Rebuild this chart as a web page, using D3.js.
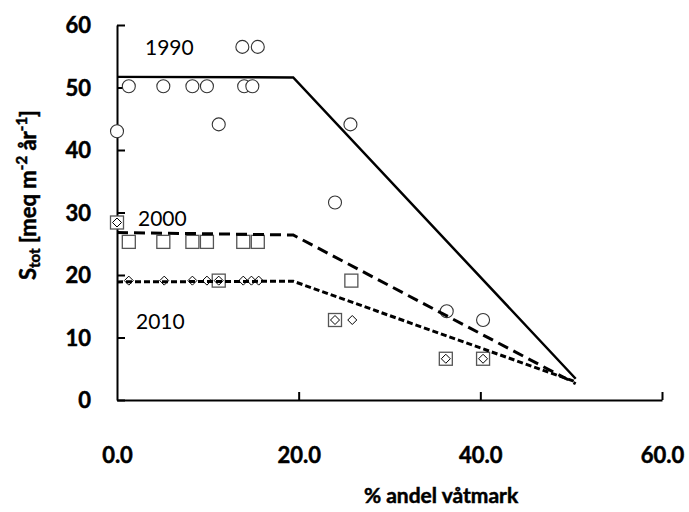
<!DOCTYPE html>
<html>
<head>
<meta charset="utf-8">
<script src="https://cdn.jsdelivr.net/npm/d3@7"></script>
<style>
  html, body { margin: 0; padding: 0; background: #fff; }
  svg { display: block; }
  text { font-family: Lato, "Open Sans", "DejaVu Sans", sans-serif; fill: #000; }
  .heavy { stroke: #000; stroke-width: 0.5px; }
</style>
</head>
<body>
<svg id="chart" width="689" height="512"></svg>
<script>
// Observed sulphur load per site, by share of wetland in the catchment
const wet1990 = [0, 1.3, 5.1, 8.3, 9.9, 11.2, 13.8, 14.0, 14.9, 15.5, 24.0, 25.7, 36.3, 40.3];
const s1990   = [43.0, 50.2, 50.2, 50.2, 50.2, 44.1, 56.5, 50.2, 50.2, 56.5, 31.6, 44.1, 14.2, 12.8];

const wet2000 = [0, 1.3, 5.1, 8.3, 9.9, 11.2, 13.9, 15.5, 24.0, 25.8, 36.2, 40.3];
const s2000   = [28.4, 25.3, 25.3, 25.3, 25.3, 19.1, 25.3, 25.3, 12.8, 19.1, 6.6, 6.6];

const wet2010 = [0, 1.3, 5.2, 8.3, 9.9, 11.2, 13.9, 14.8, 15.6, 24.0, 25.9, 36.2, 40.3];
const s2010   = [28.4, 19.1, 19.1, 19.1, 19.1, 19.1, 19.1, 19.1, 19.1, 12.8, 12.8, 6.6, 6.6];

// Broken-line fits: plateau, then linear decline
const fitX    = [0, 19.4, 50.5];
const fit1990 = [51.7, 51.6, 3.4];
const fit2000 = [26.8, 26.4, 2.6];
const fit2010 = [18.9, 19.0, 2.9];

const xTicks = [0, 20, 40, 60];
const yTicks = [0, 10, 20, 30, 40, 50, 60];

const svg = d3.select("#chart");
const x = d3.scaleLinear().domain([0, 60]).range([117, 662]);
const y = d3.scaleLinear().domain([0, 60]).range([400, 25]);

// Axes (ticks point inward)
const xAxis = d3.axisBottom(x).tickValues(xTicks).tickSizeInner(-8).tickSizeOuter(0).tickFormat(d3.format(".1f"));
const yAxis = d3.axisLeft(y).tickValues(yTicks).tickSizeInner(-8).tickSizeOuter(0).tickFormat(d3.format("d"));

const gx = svg.append("g").attr("transform", `translate(0,${y(0)})`).call(xAxis);
const gy = svg.append("g").attr("transform", `translate(${x(0)},0)`).call(yAxis);

[gx, gy].forEach(g => {
  g.select(".domain").attr("stroke", "#000").attr("stroke-width", 2);
  g.selectAll(".tick line").attr("stroke", "#000").attr("stroke-width", 2);
  g.selectAll(".tick text").attr("fill", "#000").attr("class", "heavy")
    .style("font-family", "Lato, 'Open Sans', sans-serif")
    .style("font-weight", "bold").style("font-size", "22px");
});
gy.selectAll(".tick text").attr("x", -26).attr("dy", "0.36em");
gx.selectAll(".tick text").attr("y", 0).attr("dy", 0)
  .attr("transform", "translate(0,63)");
gx.selectAll(".tick").filter(d => d === 0).select("line").remove();

// Markers
const pts = (xs, ys) => xs.map((v, i) => [v, ys[i]]);

svg.append("g").selectAll("rect").data(pts(wet2000, s2000)).join("rect")
  .attr("x", d => x(d[0]) - 6.5).attr("y", d => y(d[1]) - 6.5)
  .attr("width", 13).attr("height", 13)
  .attr("fill", "#fff").attr("stroke", "#555").attr("stroke-width", 1.3);

svg.append("g").selectAll("path").data(pts(wet2010, s2010)).join("path")
  .attr("d", d => {
    const cx = x(d[0]), cy = y(d[1]), r = 4.5;
    return `M${cx},${cy - r}L${cx + r},${cy}L${cx},${cy + r}L${cx - r},${cy}Z`;
  })
  .attr("fill", "#fff").attr("stroke", "#000").attr("stroke-width", 1);

svg.append("g").selectAll("circle").data(pts(wet1990, s1990)).join("circle")
  .attr("cx", d => x(d[0])).attr("cy", d => y(d[1])).attr("r", 6.5)
  .attr("fill", "#fff").attr("stroke", "#333").attr("stroke-width", 1.1);

// Fitted lines
const line = d3.line().x(d => x(d[0])).y(d => y(d[1]));
const fits = [
  { ys: fit1990, dash: null, w: 2.5 },
  { ys: fit2000, dash: "11,6", w: 3 },
  { ys: fit2010, dash: "6,3", w: 3 }
];
svg.append("g").selectAll("path").data(fits).join("path")
  .attr("d", f => line(pts(fitX, f.ys)))
  .attr("fill", "none").attr("stroke", "#000")
  .attr("stroke-width", f => f.w)
  .attr("stroke-dasharray", f => f.dash);

// Year labels
const yearLabels = [
  { t: "1990", px: 145, py: 55 },
  { t: "2000", px: 138, py: 226 },
  { t: "2010", px: 136, py: 329 }
];
svg.append("g").selectAll("text").data(yearLabels).join("text")
  .attr("x", d => d.px).attr("y", d => d.py)
  .style("font-size", "21px").text(d => d.t);

// Axis titles
svg.append("text").attr("class", "heavy").attr("x", 441).attr("y", 503).attr("text-anchor", "middle")
  .style("font-weight", "bold").style("font-size", "21px").text("% andel våtmark");

const yt = svg.append("text").attr("class", "heavy").attr("transform", "translate(36,195) rotate(-90)")
  .attr("text-anchor", "middle").style("font-weight", "bold").style("font-size", "22px");
yt.append("tspan").text("S");
yt.append("tspan").attr("baseline-shift", "-25%").style("font-size", "15px").text("tot");
yt.append("tspan").text(" [meq m");
yt.append("tspan").attr("baseline-shift", "super").style("font-size", "15px").text("-2");
yt.append("tspan").text(" år");
yt.append("tspan").attr("baseline-shift", "super").style("font-size", "15px").text("-1");
yt.append("tspan").text("]");
</script>
</body>
</html>
